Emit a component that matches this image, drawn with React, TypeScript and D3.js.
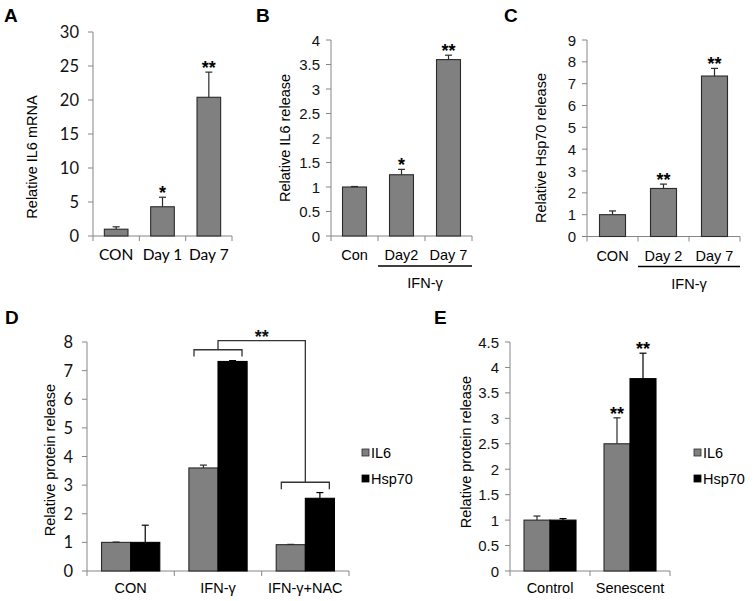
import React from "react";
import * as d3 from "d3";

// panel A: IL6 mRNA
const catsA = ["CON", "Day 1", "Day 7"];
const valsA = [1, 4.3, 20.4];
const errsA = [0.35, 1.4, 3.7];
const starsA = ["", "*", "**"];
const ticksA = [0, 5, 10, 15, 20, 25, 30];

// panel B: IL6 release
const catsB = ["Con", "Day2", "Day 7"];
const valsB = [1, 1.25, 3.6];
const errsB = [0.01, 0.11, 0.09];
const starsB = ["", "*", "**"];
const ticksB = [0, 0.5, 1, 1.5, 2, 2.5, 3, 3.5, 4];

// panel C: Hsp70 release
const catsC = ["CON", "Day 2", "Day 7"];
const valsC = [1, 2.2, 7.35];
const errsC = [0.17, 0.2, 0.35];
const starsC = ["", "**", "**"];
const ticksC = [0, 1, 2, 3, 4, 5, 6, 7, 8, 9];

// panel D: protein release with NAC
const catsD = ["CON", "IFN-γ", "IFN-γ+NAC"];
const il6D = [1, 3.6, 0.92];
const il6ErrD = [0.01, 0.1, 0.01];
const hspD = [1, 7.32, 2.54];
const hspErrD = [0.6, 0.03, 0.2];
const ticksD = [0, 1, 2, 3, 4, 5, 6, 7, 8];

// panel E: senescent cells
const catsE = ["Control", "Senescent"];
const il6E = [1, 2.5];
const il6ErrE = [0.08, 0.51];
const hspE = [1, 3.78];
const hspErrE = [0.03, 0.5];
const il6StarsE = ["", "**"];
const hspStarsE = ["", "**"];
const ticksE = [0, 0.5, 1, 1.5, 2, 2.5, 3, 3.5, 4, 4.5];

const series = ["IL6", "Hsp70"];

const AXIS = "#868686";
const GRAY = "#808080";
const EDGE = "#2a2a2a";
const ARIAL = "'Liberation Sans', Arial, sans-serif";
const CALIBRI = "Lato, 'Open Sans', sans-serif";

type Lin = d3.ScaleLinear<number, number>;
type Band = d3.ScaleBand<string>;

const Axes = ({ x, y, ticks, tickFont }: { x: Band; y: Lin; ticks: number[]; tickFont: string }) => {
  const [x0, x1] = x.range();
  const y0 = y(0);
  const bounds = [...x.domain().map((d) => x(d) as number), x1];
  const cal = tickFont === CALIBRI;
  return (
    <g>
      <line x1={x0} x2={x0} y1={y0} y2={y(ticks[ticks.length - 1])} stroke={AXIS} strokeWidth={1} />
      <line x1={x0} x2={x1} y1={y0} y2={y0} stroke={AXIS} strokeWidth={1} />
      {ticks.map((t) => (
        <g key={t}>
          <line x1={x0 - 5} x2={x0} y1={y(t)} y2={y(t)} stroke={AXIS} />
          <text x={x0 - (cal ? 14 : 11)} y={y(t)} textAnchor="end" dominantBaseline="central" fontFamily={tickFont} fontSize={cal ? 16.5 : 15} fill="#111">
            {t}
          </text>
        </g>
      ))}
      {bounds.map((b, i) => (
        <line key={i} x1={b} x2={b} y1={y0} y2={y0 + 5} stroke={AXIS} />
      ))}
    </g>
  );
};

const ErrorBar = ({ cx, y, v, e, color }: { cx: number; y: Lin; v: number; e: number; color: string }) => (
  <g stroke={color} strokeWidth={1.2}>
    <line x1={cx} x2={cx} y1={y(v)} y2={y(v + e)} />
    <line x1={cx - 3.5} x2={cx + 3.5} y1={y(v + e)} y2={y(v + e)} />
  </g>
);

const YLabel = ({ cx, cy, text }: { cx: number; cy: number; text: string }) => (
  <text transform={`translate(${cx},${cy}) rotate(-90)`} textAnchor="middle" dominantBaseline="central" fontFamily={ARIAL} fontSize={14.5}>
    {text}
  </text>
);

const Letter = ({ x, y, t }: { x: number; y: number; t: string }) => (
  <text x={x} y={y} fontFamily={ARIAL} fontSize={19} fontWeight="bold">
    {t}
  </text>
);

interface SimpleProps {
  cats: string[];
  vals: number[];
  errs: number[];
  stars: string[];
  ticks: number[];
  xr: [number, number];
  yr: [number, number];
  tickFont: string;
  labelFont: string;
  ifn?: boolean;
}

const SimplePanel = ({ cats, vals, errs, stars, ticks, xr, yr, tickFont, labelFont, ifn }: SimpleProps) => {
  const x = d3.scaleBand().domain(cats).range(xr);
  const y = d3.scaleLinear().domain([0, ticks[ticks.length - 1]]).range(yr);
  const bw = x.bandwidth() * 0.51;
  const y0 = y(0);
  return (
    <g>
      <Axes x={x} y={y} ticks={ticks} tickFont={tickFont} />
      {cats.map((c, i) => {
        const cx = (x(c) as number) + x.bandwidth() / 2;
        return (
          <g key={c}>
            <rect x={cx - bw / 2} y={y(vals[i])} width={bw} height={y0 - y(vals[i])} fill={GRAY} stroke={EDGE} strokeWidth={1.1} />
            <ErrorBar cx={cx} y={y} v={vals[i]} e={errs[i]} color={EDGE} />
            {stars[i] && (
              <text x={cx} y={y(vals[i] + errs[i]) + 2} textAnchor="middle" fontFamily={ARIAL} fontSize={18} fontWeight="bold">
                {stars[i]}
              </text>
            )}
            <text x={cx} y={y0 + 24} textAnchor="middle" fontFamily={labelFont} fontSize={labelFont === CALIBRI ? 15.5 : 14.5}>
              {c}
            </text>
          </g>
        );
      })}
      {ifn && (
        <g>
          <line x1={x(cats[1]) as number} x2={xr[1]} y1={y0 + 30} y2={y0 + 30} stroke="#000" strokeWidth={1.3} />
          <text x={((x(cats[1]) as number) + xr[1]) / 2} y={y0 + 52} textAnchor="middle" fontFamily={ARIAL} fontSize={14.5}>
            IFN-γ
          </text>
        </g>
      )}
    </g>
  );
};

interface GroupProps {
  cats: string[];
  il6: number[];
  il6Err: number[];
  hsp: number[];
  hspErr: number[];
  ticks: number[];
  xr: [number, number];
  yr: [number, number];
  groupRatio: number;
  tickFont: string;
  il6Stars?: string[];
  hspStars?: string[];
  legendX: number;
  children?: (x: Band, y: Lin) => React.ReactNode;
}

const GroupPanel = ({ cats, il6, il6Err, hsp, hspErr, ticks, xr, yr, groupRatio, tickFont, il6Stars, hspStars, legendX, children }: GroupProps) => {
  const x = d3.scaleBand().domain(cats).range(xr);
  const y = d3.scaleLinear().domain([0, ticks[ticks.length - 1]]).range(yr);
  const gw = x.bandwidth() * groupRatio;
  const x1 = d3.scaleBand().domain(series).range([0, gw]);
  const y0 = y(0);
  const data = [
    { vals: il6, errs: il6Err, fill: GRAY, stroke: EDGE, stars: il6Stars },
    { vals: hsp, errs: hspErr, fill: "#000", stroke: "#000", stars: hspStars },
  ];
  return (
    <g>
      <Axes x={x} y={y} ticks={ticks} tickFont={tickFont} />
      {cats.map((c, i) => {
        const gx = (x(c) as number) + (x.bandwidth() - gw) / 2;
        return (
          <g key={c}>
            {data.map((s, j) => {
              const bx = gx + (x1(series[j]) as number);
              const cx = bx + x1.bandwidth() / 2;
              return (
                <g key={j}>
                  <rect x={bx} y={y(s.vals[i])} width={x1.bandwidth()} height={y0 - y(s.vals[i])} fill={s.fill} stroke={s.stroke} strokeWidth={1.1} />
                  <ErrorBar cx={cx} y={y} v={s.vals[i]} e={s.errs[i]} color={s.stroke} />
                  {s.stars && s.stars[i] && (
                    <text x={cx} y={y(s.vals[i] + s.errs[i]) + 2} textAnchor="middle" fontFamily={ARIAL} fontSize={18} fontWeight="bold">
                      {s.stars[i]}
                    </text>
                  )}
                </g>
              );
            })}
            <text x={(x(c) as number) + x.bandwidth() / 2} y={y0 + 22} textAnchor="middle" fontFamily={ARIAL} fontSize={14.5}>
              {c}
            </text>
          </g>
        );
      })}
      {series.map((s, j) => (
        <g key={s}>
          <rect x={legendX} y={449 + j * 26} width={7} height={7} fill={data[j].fill} stroke={data[j].stroke} strokeWidth={0.8} />
          <text x={legendX + 9} y={453 + j * 26} dominantBaseline="central" fontFamily={ARIAL} fontSize={14.5}>
            {s}
          </text>
        </g>
      ))}
      {children && children(x, y)}
    </g>
  );
};

// significance bracket in panel D, levels in data units
const bracketIfn = 7.73;
const bracketNac = 3.1;
const bracketTop = 8.05;
const bracketDrop = 0.24;

const BracketD = ({ x, y }: { x: Band; y: Lin }) => {
  const c1 = (x(catsD[1]) as number) + x.bandwidth() / 2;
  const c2 = (x(catsD[2]) as number) + x.bandwidth() / 2;
  const hw = x.bandwidth() * 0.275;
  const arm = (c: number, lv: number) =>
    `M${c - hw},${y(lv - bracketDrop)}V${y(lv)}H${c + hw}V${y(lv - bracketDrop)}`;
  return (
    <g fill="none" stroke="#333" strokeWidth={1.3}>
      <path d={arm(c1, bracketIfn)} />
      <path d={arm(c2, bracketNac)} />
      <path d={`M${c1},${y(bracketIfn)}V${y(bracketTop)}H${c2}V${y(bracketNac)}`} />
      <text x={(c1 + c2) / 2} y={y(bracketTop) + 2} textAnchor="middle" fontFamily={ARIAL} fontSize={18} fontWeight="bold" fill="#111" stroke="none">
        **
      </text>
    </g>
  );
};

export default function App() {
  return (
    <svg width={754} height={601} style={{ position: "absolute", left: 0, top: 0, background: "#fff" }}>
      <Letter x={4} y={22} t="A" />
      <Letter x={256} y={22} t="B" />
      <Letter x={504} y={22} t="C" />
      <Letter x={5} y={324} t="D" />
      <Letter x={434} y={324} t="E" />

      <SimplePanel cats={catsA} vals={valsA} errs={errsA} stars={starsA} ticks={ticksA} xr={[93, 232]} yr={[236, 32]} tickFont={CALIBRI} labelFont={CALIBRI} />
      <YLabel cx={32} cy={157} text="Relative IL6 mRNA" />

      <SimplePanel cats={catsB} vals={valsB} errs={errsB} stars={starsB} ticks={ticksB} xr={[331, 472]} yr={[236, 40]} tickFont={ARIAL} labelFont={ARIAL} ifn />
      <YLabel cx={285} cy={138} text="Relative IL6 release" />

      <SimplePanel cats={catsC} vals={valsC} errs={errsC} stars={starsC} ticks={ticksC} xr={[587, 740]} yr={[236.5, 40]} tickFont={ARIAL} labelFont={ARIAL} ifn />
      <YLabel cx={541} cy={148} text="Relative Hsp70 release" />

      <GroupPanel cats={catsD} il6={il6D} il6Err={il6ErrD} hsp={hspD} hspErr={hspErrD} ticks={ticksD} xr={[87, 349]} yr={[571, 342]} groupRatio={0.667} tickFont={CALIBRI} legendX={362}>
        {(x, y) => <BracketD x={x} y={y} />}
      </GroupPanel>
      <YLabel cx={50} cy={460} text="Relative protein release" />

      <GroupPanel cats={catsE} il6={il6E} il6Err={il6ErrE} hsp={hspE} hspErr={hspErrE} ticks={ticksE} xr={[510, 670]} yr={[571, 342]} groupRatio={0.65} tickFont={ARIAL} il6Stars={il6StarsE} hspStars={hspStarsE} legendX={694} />
      <YLabel cx={466} cy={452} text="Relative protein release" />
    </svg>
  );
}
